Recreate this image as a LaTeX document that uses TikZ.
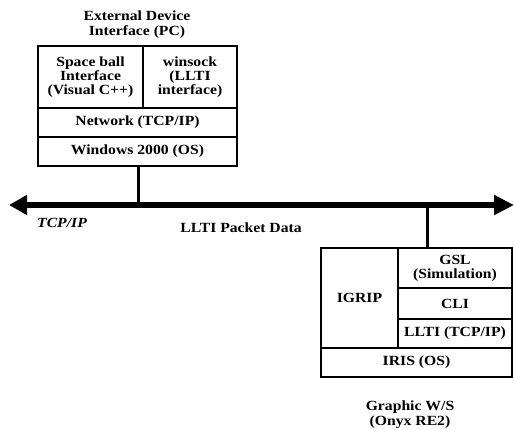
\documentclass[tikz,border=0pt]{standalone}
\usepackage{fontspec}
\setmainfont{Liberation Serif}[FakeStretch=1.12]
\usetikzlibrary{arrows.meta}
\tikzset{
  cell/.style={draw=black, line width=1.3pt, inner sep=0pt, align=center,
    font=\fontsize{14}{14}\selectfont\bfseries},
  lbl/.style={inner sep=0pt, align=center, font=\fontsize{14}{15}\selectfont\bfseries},
  bus/.style={line width=5.5pt, {Triangle[length=18pt,width=19pt]}-{Triangle[length=20pt,width=19pt]}},
  link/.style={line width=3pt}
}
\begin{document}
\begin{tikzpicture}[x=1pt,y=-1pt]
\useasboundingbox (0,0) rectangle (514,429);
% top PC box
\node[cell, minimum width=105pt, minimum height=62pt] (sb) at (90.5,77) {Space ball\\Interface\\(Visual C++)};
\node[cell, minimum width=94pt, minimum height=62pt] (ws) at (190,77) {winsock\\(LLTI\\interface)};
\node[cell, minimum width=199pt, minimum height=29pt] (net) at (137.5,122.5) {Network (TCP/IP)};
\node[cell, minimum width=199pt, minimum height=29pt] (win) at (137.5,151.5) {Windows 2000 (OS)};
\node[lbl] (pct) at (137,25) {External Device\\Interface (PC)};
% bus
\coordinate (busL) at (9,205);
\coordinate (busR) at (514,205);
\draw[bus] (busL) -- (busR);
\node[inner sep=0pt, font=\fontsize{14}{14}\selectfont\bfseries\itshape] (tcp) at (62,223) {TCP/IP};
\node[lbl] (pkt) at (241,228) {LLTI Packet Data};
% bottom box
\node[cell, minimum width=77pt, minimum height=100pt] (igrip) at (359.5,298) {IGRIP};
\node[cell, minimum width=114pt, minimum height=40pt] (gsl) at (455,268) {GSL\\(Simulation)};
\node[cell, minimum width=114pt, minimum height=31pt] (cli) at (455,303.5) {CLI};
\node[cell, minimum width=114pt, minimum height=29pt] (llti) at (455,333.5) {LLTI (TCP/IP)};
\node[cell, minimum width=191pt, minimum height=29pt] (iris) at (416.5,362.5) {IRIS (OS)};
\node[lbl] (gws) at (410,414.5) {Graphic W/S\\(Onyx RE2)};
% links
\coordinate (j1) at (138,205);
\coordinate (j2) at (427,205);
\draw[link] (j1 |- win.south) -- (j1);
\draw[link] (j2) -- (j2 |- gsl.north);
\end{tikzpicture}
\end{document}
